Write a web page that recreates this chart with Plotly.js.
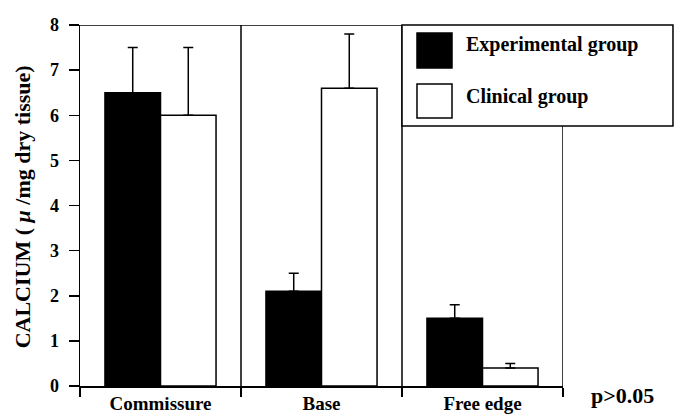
<!DOCTYPE html>
<html>
<head>
<meta charset="utf-8">
<script src="https://cdn.plot.ly/plotly-3.0.1.min.js"></script>
<style>html,body{margin:0;padding:0;background:#fff;}#chart{width:680px;height:416px;}</style>
</head>
<body>
<div id="chart"></div>
<script>
// Data
const categories = ['Commissure', 'Base', 'Free edge'];
const seriesNames = ['Experimental group', 'Clinical group'];
const experimental = [6.5, 2.1, 1.5];
const experimentalErr = [1.0, 0.4, 0.3];
const clinical = [6.0, 6.6, 0.4];
const clinicalErr = [1.5, 1.2, 0.1];
const yTicks = [0, 1, 2, 3, 4, 5, 6, 7, 8];
const yTitle = 'CALCIUM ( <i>μ</i> /mg dry tissue)';
const pNote = 'p>0.05';

const serif = 'Liberation Serif, Times New Roman, serif';
const zeros = arr => arr.map(() => 0);
const bold = s => '<b>' + s + '</b>';

const traces = [
  {
    type: 'bar', name: seriesNames[0], x: categories, y: experimental,
    marker: {color: '#000', line: {color: '#000', width: 1.5}},
    error_y: {type: 'data', symmetric: false, array: experimentalErr, arrayminus: zeros(experimentalErr), color: '#000', thickness: 1.5, width: 5},
    showlegend: false
  },
  {
    type: 'bar', name: seriesNames[1], x: categories, y: clinical,
    marker: {color: '#fff', line: {color: '#000', width: 1.5}},
    error_y: {type: 'data', symmetric: false, array: clinicalErr, arrayminus: zeros(clinicalErr), color: '#000', thickness: 1.5, width: 5},
    showlegend: false
  }
];

const line = {color: '#000', width: 1.5};
const shapes = [
  // top border
  {type: 'line', xref: 'paper', yref: 'y', x0: -0.02, x1: 1, y0: 8, y1: 8, line: line},
  // category dividers
  {type: 'line', xref: 'x', yref: 'y', x0: 0.5, x1: 0.5, y0: 0, y1: 8, line: line},
  {type: 'line', xref: 'x', yref: 'y', x0: 1.5, x1: 1.5, y0: 0, y1: 8, line: line},
  {type: 'line', xref: 'x', yref: 'y', x0: 2.5, x1: 2.5, y0: 0, y1: 8, line: line},
  // legend box
  {type: 'rect', xref: 'paper', yref: 'paper', x0: 0.6667, x1: 1.2277, y0: 0.7202, y1: 1.0, fillcolor: '#fff', line: line, layer: 'above'},
  {type: 'rect', xref: 'paper', yref: 'paper', x0: 0.6977, x1: 0.7702, y0: 0.8809, y1: 0.9778, fillcolor: '#000', line: line, layer: 'above'},
  {type: 'rect', xref: 'paper', yref: 'paper', x0: 0.6977, x1: 0.7702, y0: 0.7424, y1: 0.8366, fillcolor: '#fff', line: line, layer: 'above'}
];

const annotations = [
  {xref: 'paper', yref: 'paper', x: 0.795, y: 0.9446, xanchor: 'left', yanchor: 'middle', showarrow: false, text: bold(seriesNames[0]), font: {family: serif, size: 20, color: '#000'}},
  {xref: 'paper', yref: 'paper', x: 0.795, y: 0.8033, xanchor: 'left', yanchor: 'middle', showarrow: false, text: bold(seriesNames[1]), font: {family: serif, size: 20, color: '#000'}},
  {xref: 'paper', yref: 'paper', x: -0.12, y: 0.495, xanchor: 'center', yanchor: 'middle', textangle: -90, showarrow: false, text: bold(yTitle), font: {family: serif, size: 22, color: '#000'}},
  {xref: 'paper', yref: 'paper', x: 1.124, y: -0.025, xanchor: 'center', yanchor: 'middle', showarrow: false, text: bold(pNote), font: {family: serif, size: 22, color: '#000'}}
];

const layout = {
  width: 680, height: 416,
  margin: {l: 80, r: 117, t: 25, b: 30, pad: 0},
  paper_bgcolor: '#fff', plot_bgcolor: '#fff',
  barmode: 'group', bargap: 0.31, bargroupgap: 0,
  font: {family: serif, color: '#000'},
  xaxis: {
    type: 'category', range: [-0.5, 2.5], showgrid: false, zeroline: false,
    showline: true, linecolor: '#000', linewidth: 1.5,
    tickmode: 'array', tickvals: categories, ticktext: categories.map(bold),
    ticks: 'outside', tickson: 'boundaries', ticklen: 9, tickwidth: 1.5, tickcolor: '#000',
    tickfont: {family: serif, size: 19, color: '#000'},
    fixedrange: true, automargin: false
  },
  yaxis: {
    range: [0, 8], tickmode: 'array', tickvals: yTicks, ticktext: yTicks.map(v => bold(String(v))),
    showgrid: false, zeroline: false,
    showline: true, linecolor: '#000', linewidth: 1.5,
    ticks: 'outside', ticklen: 10, tickwidth: 1.5, tickcolor: '#000', ticklabelstandoff: 6,
    tickfont: {family: serif, size: 18, color: '#000'},
    fixedrange: true, automargin: false
  },
  shapes: shapes,
  annotations: annotations
};

Plotly.newPlot('chart', traces, layout, {staticPlot: true, displayModeBar: false});
</script>
</body>
</html>
